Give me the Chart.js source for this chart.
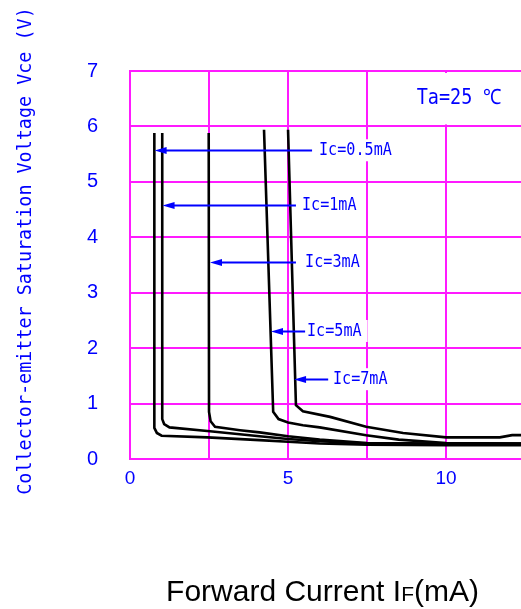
<!DOCTYPE html>
<html>
<head>
<meta charset="utf-8">
<script src="https://cdn.jsdelivr.net/npm/chart.js@4.4.1/dist/chart.umd.min.js"></script>
<style>
html, body { margin: 0; padding: 0; background: #fff; }
#wrap { width: 521px; height: 609px; position: relative; }
</style>
</head>
<body>
<div id="wrap"><canvas id="chart"></canvas></div>
<script>
// forward current IF (mA) vs Vce (V), one pair of arrays per Ic curve
let ic05X = [0.77, 0.77, 0.85, 1.0, 2.45, 4.1, 5.0, 6.0, 7.5, 10, 12.37];
let ic05Y = [5.88, 0.56, 0.47, 0.42, 0.39, 0.34, 0.31, 0.28, 0.26, 0.25, 0.25];
let ic1X = [1.02, 1.02, 1.08, 1.25, 2.53, 4.1, 5.0, 6.0, 7.5, 10, 12.37];
let ic1Y = [5.88, 0.72, 0.63, 0.57, 0.50, 0.41, 0.36, 0.32, 0.28, 0.27, 0.27];
let ic3X = [2.49, 2.5, 2.55, 2.69, 3.48, 4.1, 5.0, 6.0, 7.5, 10, 12.37];
let ic3Y = [5.88, 0.85, 0.68, 0.58, 0.52, 0.48, 0.41, 0.35, 0.29, 0.28, 0.28];
let ic5X = [4.24, 4.53, 4.7, 5.0, 5.47, 6.0, 7.47, 8.5, 10, 12.37];
let ic5Y = [5.94, 0.85, 0.72, 0.66, 0.61, 0.57, 0.43, 0.35, 0.29, 0.28];
let ic7X = [5.0, 5.25, 5.47, 6.33, 7.47, 8.64, 10, 11.7, 12.09, 12.37];
let ic7Y = [5.94, 0.97, 0.86, 0.76, 0.58, 0.47, 0.39, 0.39, 0.43, 0.43];

let xTicks = [0, 2.5, 5, 7.5, 10];
let xTickLabels = ['0', '', '5', '', '10'];

// arrow callouts: text, arrow tip, arrow tail, text start (mA) and height (V)
let calloutText = ['Ic=0.5mA', 'Ic=1mA', 'Ic=3mA', 'Ic=5mA', 'Ic=7mA'];
let calloutTip = [0.78, 1.03, 2.53, 4.46, 5.19];
let calloutTail = [5.76, 5.25, 5.25, 5.54, 6.27];
let calloutTextX = [5.98, 5.44, 5.54, 5.6, 6.42];
let calloutY = [5.57, 4.58, 3.56, 2.31, 1.44];

let gridColor = '#ff1aff';
let blue = '#0000ff';
let labelFont = '18px "DejaVu Sans Mono"';

function toPoints(xs, ys) {
    return xs.map((x, i) => ({ x: x, y: ys[i] }));
}

function curve(xs, ys) {
    return {
        data: toPoints(xs, ys),
        borderColor: '#000',
        borderWidth: 2.6,
        pointRadius: 0,
        tension: 0,
        fill: false
    };
}

const annotations = {
    id: 'annotations',
    beforeDatasetsDraw(chart) {
        const ctx = chart.ctx;
        const x = chart.scales.x, y = chart.scales.y;
        ctx.save();
        ctx.fillStyle = '#fff';
        // the Ta box in the top row has no 10 mA grid line
        const px = x.getPixelForValue(10);
        ctx.fillRect(px - 3, y.getPixelForValue(7) + 2, 6, y.getPixelForValue(6) - y.getPixelForValue(7) - 4);
        // white boxes behind the callout texts break the grid lines
        ctx.font = labelFont;
        calloutText.forEach((text, i) => {
            const tx = x.getPixelForValue(calloutTextX[i]);
            const py = y.getPixelForValue(calloutY[i]);
            const w = ctx.measureText(text).width * 0.84;
            ctx.fillRect(tx - 2, py - 11, w + 8, 22);
        });
        ctx.restore();
    },
    afterDatasetsDraw(chart) {
        const ctx = chart.ctx;
        const x = chart.scales.x, y = chart.scales.y;
        ctx.save();
        ctx.strokeStyle = blue;
        ctx.fillStyle = blue;
        ctx.lineWidth = 2;
        calloutText.forEach((text, i) => {
            const tip = x.getPixelForValue(calloutTip[i]);
            const tail = x.getPixelForValue(calloutTail[i]);
            const py = Math.round(y.getPixelForValue(calloutY[i])) + 0.5;
            ctx.beginPath();
            ctx.moveTo(tail, py);
            ctx.lineTo(tip + 6, py);
            ctx.stroke();
            ctx.beginPath();
            ctx.moveTo(tip, py);
            ctx.lineTo(tip + 12, py - 3.5);
            ctx.lineTo(tip + 12, py + 3.5);
            ctx.closePath();
            ctx.fill();

            ctx.save();
            ctx.translate(x.getPixelForValue(calloutTextX[i]), py);
            ctx.scale(0.84, 1);
            ctx.font = labelFont;
            ctx.textAlign = 'left';
            ctx.textBaseline = 'middle';
            ctx.fillText(text, 0, 0);
            ctx.restore();
        });

        ctx.save();
        ctx.translate(x.getPixelForValue(9.07), y.getPixelForValue(6.51));
        ctx.scale(0.88, 1);
        ctx.font = '21px "DejaVu Sans Mono"';
        ctx.textAlign = 'left';
        ctx.textBaseline = 'middle';
        ctx.fillText('Ta=25 \u2103', 0, 0);
        ctx.restore();
        ctx.restore();
    },
    afterDraw(chart) {
        const ctx = chart.ctx;
        const area = chart.chartArea;
        ctx.save();
        // y axis title
        ctx.fillStyle = blue;
        ctx.translate(26, 251);
        ctx.rotate(-Math.PI / 2);
        ctx.scale(0.92, 1);
        ctx.font = '20px "DejaVu Sans Mono"';
        ctx.textAlign = 'center';
        ctx.textBaseline = 'middle';
        ctx.fillText('Collector-emitter Saturation Voltage Vce (V)', 0, 0);
        ctx.restore();

        // x axis title with small F
        ctx.save();
        ctx.fillStyle = '#000';
        const big = '30px "Liberation Sans", Arial, sans-serif';
        const small = '21px "Liberation Sans", Arial, sans-serif';
        const parts = [['Forward Current I', big], ['F', small], ['(mA)', big]];
        let total = 0;
        parts.forEach(p => { ctx.font = p[1]; total += ctx.measureText(p[0]).width; });
        let cx = (area.left + area.right) / 2 - total / 2 - 3;
        ctx.textBaseline = 'alphabetic';
        ctx.textAlign = 'left';
        parts.forEach(p => {
            ctx.font = p[1];
            ctx.fillText(p[0], cx, 601);
            cx += ctx.measureText(p[0]).width;
        });
        ctx.restore();
    }
};

new Chart(document.getElementById('chart'), {
    type: 'line',
    data: {
        datasets: [
            curve(ic05X, ic05Y),
            curve(ic1X, ic1Y),
            curve(ic3X, ic3Y),
            curve(ic5X, ic5Y),
            curve(ic7X, ic7Y)
        ]
    },
    options: {
        responsive: true,
        maintainAspectRatio: false,
        animation: false,
        layout: { padding: { top: 71, left: 0, right: 0, bottom: 0 } },
        plugins: {
            legend: { display: false },
            tooltip: { enabled: false }
        },
        scales: {
            x: {
                type: 'linear',
                min: 0,
                max: 12.37,
                afterBuildTicks: (scale) => { scale.ticks = xTicks.map(v => ({ value: v })); },
                afterFit: (scale) => { scale.height = 150; },
                grid: { color: gridColor, lineWidth: 2, drawTicks: false },
                border: { color: gridColor, width: 2 },
                ticks: {
                    padding: 8,
                    color: blue,
                    autoSkip: false,
                    maxRotation: 0,
                    font: { family: '"Liberation Sans", Arial, sans-serif', size: 19 },
                    callback: (value, index) => xTickLabels[index]
                }
            },
            y: {
                min: 0,
                max: 7,
                afterFit: (scale) => { scale.width = 130; },
                grid: { color: gridColor, lineWidth: 2, drawTicks: false },
                border: { color: gridColor, width: 2 },
                ticks: {
                    stepSize: 1,
                    padding: 32,
                    color: blue,
                    font: { family: '"Liberation Sans", Arial, sans-serif', size: 20 }
                }
            }
        }
    },
    plugins: [annotations]
});
</script>
</body>
</html>
